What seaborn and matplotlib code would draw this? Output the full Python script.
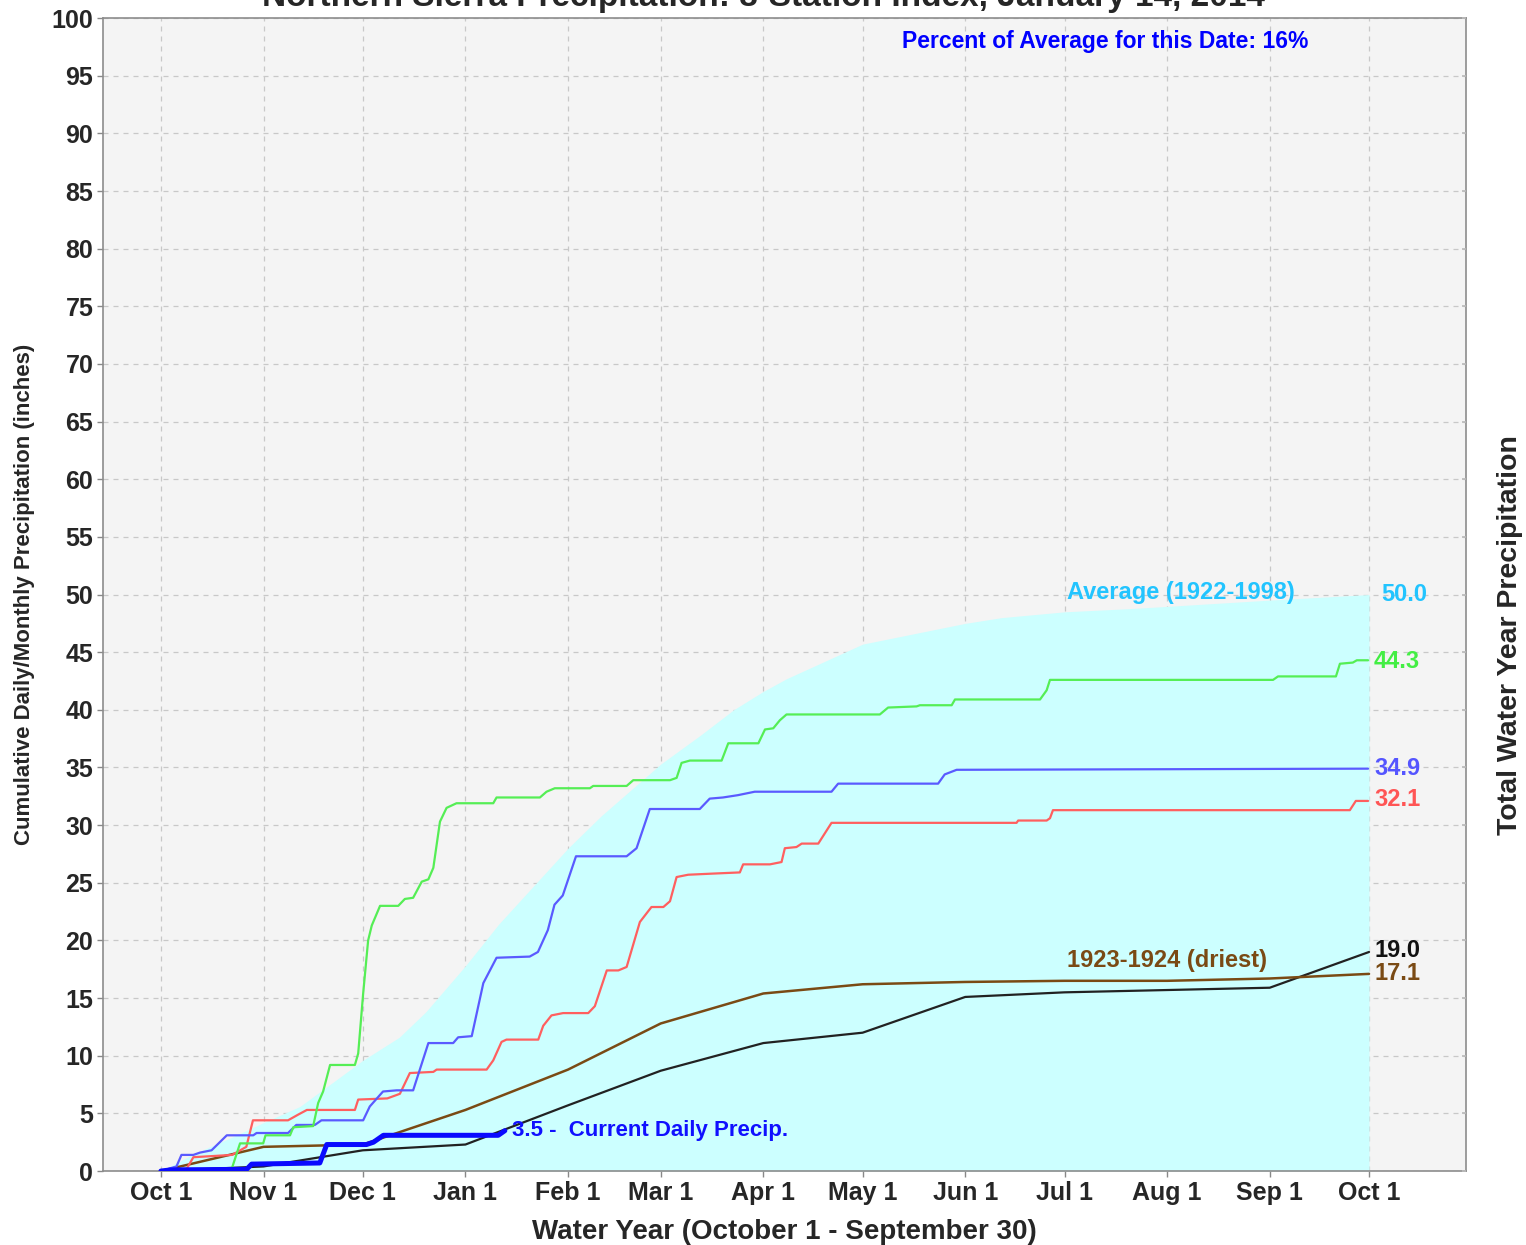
import seaborn as sns
import matplotlib.pyplot as plt

# x values are days of the water year (0 = Oct 1)
month_days = [0, 31, 61, 92, 123, 151, 182, 212, 243, 273, 304, 335, 365]
month_labels = ["Oct 1", "Nov 1", "Dec 1", "Jan 1", "Feb 1", "Mar 1", "Apr 1",
                "May 1", "Jun 1", "Jul 1", "Aug 1", "Sep 1", "Oct 1"]

# average 1922-1998 (cyan area)
avg_days = [0, 10, 22, 31, 42, 61, 72, 80, 92, 102, 123, 133, 151, 163, 173, 182,
            189, 212, 243, 254, 273, 294, 334, 365]
avg_vals = [0, 1.5, 3.0, 4.2, 5.6, 9.6, 11.6, 13.8, 17.8, 21.4, 28.0, 30.8, 35.3,
            37.8, 40.0, 41.6, 42.7, 45.7, 47.5, 48.0, 48.5, 48.8, 49.5, 50.0]

# monthly lines
monthly_a = [0, 0.4, 1.8, 2.3, 5.7, 8.7, 11.1, 12.0, 15.1, 15.5, 15.7, 15.9, 19.0]
driest = [0, 2.1, 2.3, 5.3, 8.8, 12.8, 15.4, 16.2, 16.4, 16.5, 16.5, 16.7, 17.1]

# daily lines
green_days = [0, 21.0, 21.4, 23.9, 30.9, 31.6, 39.0, 40.0, 46.0, 47.5, 49.0, 51.1, 58.6,
              59.6, 61.1, 62.6, 63.7, 66.2, 71.7, 73.7, 76.2, 78.8, 80.8, 82.3, 84.3,
              86.3, 89.3, 100.4, 101.4, 114.5, 116.5, 119.0, 129.6, 130.6, 140.7,
              142.7, 153.8, 155.8, 157.3, 159.8, 169.4, 171.4, 180.5, 182.5, 185.0,
              187.0, 189.0, 217.2, 219.7, 228.3, 229.3, 238.9, 239.9, 265.6, 267.6,
              268.6, 336.0, 337.5, 355.0, 356.2, 360.1, 361.3, 364.7]
green_vals = [0, 0, 0.2, 2.4, 2.4, 3.1, 3.1, 3.8, 3.9, 5.9, 6.9, 9.2, 9.2,
              10.2, 15.4, 20.0, 21.3, 23.0, 23.0, 23.6, 23.7, 25.1, 25.3, 26.3, 30.3,
              31.5, 31.9, 31.9, 32.4, 32.4, 32.9, 33.2, 33.2, 33.4, 33.4,
              33.9, 33.9, 34.1, 35.4, 35.6, 35.6, 37.1, 37.1, 38.3, 38.4,
              39.1, 39.6, 39.6, 40.2, 40.3, 40.4, 40.4, 40.9, 40.9, 41.7,
              42.6, 42.6, 42.9, 42.9, 44.0, 44.1, 44.3, 44.3]

blue_days = [0, 4.7, 6.2, 9.8, 11.8, 15.3, 19.9, 27.9, 28.9, 38.4, 40.9, 46.5, 48.5,
             61.1, 63.1, 67.1, 71.2, 76.2, 80.8, 88.3, 89.8, 93.9, 97.4, 101.4, 111.4,
             113.9, 116.9, 118.9, 121.4, 125.4, 140.7, 143.7, 147.7, 162.8, 165.8,
             169.8, 174.3, 179.4, 202.6, 204.6, 234.8, 236.8, 240.4, 364.7]
blue_vals = [0, 0.4, 1.4, 1.4, 1.6, 1.8, 3.1, 3.1, 3.3, 3.3, 4.0, 4.0, 4.4,
             4.4, 5.6, 6.9, 7.0, 7.0, 11.1, 11.1, 11.6, 11.7, 16.3, 18.5, 18.6,
             19.0, 20.9, 23.1, 23.9, 27.3, 27.3, 28.0, 31.4, 31.4, 32.3,
             32.4, 32.6, 32.9, 32.9, 33.6, 33.6, 34.4, 34.8, 34.9]

red_days = [0, 7.8, 9.8, 21.5, 25.8, 27.8, 38.4, 41.5, 44.1, 58.6, 59.6, 68.4, 72.2,
            75.2, 82.3, 83.3, 98.4, 100.4, 102.9, 104.4, 114.0, 115.5, 118.0, 121.5,
            129.1, 131.1, 134.7, 138.2, 140.7, 144.7, 148.2, 151.8, 153.8, 155.8,
            159.3, 166.9, 174.9, 175.9, 184.0, 187.5, 188.5, 192.0, 193.6, 198.6,
            202.6, 258.5, 259.0, 267.6, 268.6, 269.5, 359.2, 361.0, 364.7]
red_vals = [0, 0.2, 1.2, 1.4, 2.1, 4.4, 4.4, 4.9, 5.3, 5.3, 6.2, 6.3, 6.7,
            8.5, 8.6, 8.8, 8.8, 9.6, 11.2, 11.4, 11.4, 12.6, 13.5, 13.7,
            13.7, 14.3, 17.4, 17.4, 17.7, 21.6, 22.9, 22.9, 23.4, 25.5,
            25.7, 25.8, 25.9, 26.6, 26.6, 26.8, 28.0, 28.1, 28.4, 28.4,
            30.2, 30.2, 30.4, 30.4, 30.6, 31.3, 31.3, 32.1, 32.1]

current_days = [0, 3, 25.9, 27.4, 48.0, 50.1, 62.1, 64.2, 67.2, 101.9, 103.9]
current_vals = [0, 0.1, 0.15, 0.6, 0.7, 2.3, 2.3, 2.5, 3.1, 3.1, 3.5]

sns.set_theme(style="whitegrid")
plt.rcParams['font.family'] = ['Liberation Sans Narrow', 'Liberation Sans', 'DejaVu Sans']
plt.rcParams['font.weight'] = 'bold'
plt.rcParams['axes.labelweight'] = 'bold'

fig = plt.figure(figsize=(15.26, 12.45), dpi=100)
ax = fig.add_axes([0.0675, 0.0594, 0.8932, 0.9261])
ax.set_facecolor('#f4f4f4')

ax.fill_between(avg_days, avg_vals, 0, color='#ccffff', linewidth=0, zorder=1)

sns.lineplot(x=month_days, y=monthly_a, ax=ax, color='#222222', linewidth=1.6,
             sort=False, estimator=None, zorder=3)
sns.lineplot(x=month_days, y=driest, ax=ax, color='#7a4a14', linewidth=1.8,
             sort=False, estimator=None, zorder=3)
sns.lineplot(x=red_days, y=red_vals, ax=ax, color='#ff5f5f', linewidth=1.6,
             sort=False, estimator=None, zorder=4)
sns.lineplot(x=blue_days, y=blue_vals, ax=ax, color='#5a5aff', linewidth=1.6,
             sort=False, estimator=None, zorder=4)
sns.lineplot(x=green_days, y=green_vals, ax=ax, color='#55ee55', linewidth=1.6,
             sort=False, estimator=None, zorder=4)
sns.lineplot(x=current_days, y=current_vals, ax=ax, color='#0a0aff', linewidth=3.6,
             sort=False, estimator=None, zorder=5)

ax.set_xlim(-17.5, 394.3)
ax.set_ylim(0, 100)
ax.set_xticks(month_days)
ax.set_xticklabels(month_labels)
ax.set_yticks(range(0, 101, 5))
ax.tick_params(axis='both', labelsize=18, length=4, width=1, color='#888888',
               left=True, bottom=True, pad=3)
ax.grid(True, color='#c8c8c8', linestyle=(0, (4, 4)), linewidth=0.9)
for s in ax.spines.values():
    s.set_color('#8c8c8c')
    s.set_linewidth(1.2)

ax.set_xlabel("Water Year (October 1 - September 30)", fontsize=20, labelpad=10)
ax.set_ylabel("Cumulative Daily/Monthly Precipitation (inches)", fontsize=16, labelpad=12)

ax2 = ax.twinx()
ax2.set_ylim(0, 100)
ax2.set_yticks(range(0, 101, 5))
ax2.set_yticklabels([])
ax2.tick_params(axis='y', direction='in', length=3, color='#bbbbbb', right=True)
ax2.grid(False)
for s in ax2.spines.values():
    s.set_visible(False)
ax2.set_ylabel("Total Water Year Precipitation", fontsize=20.5,
               family=['Liberation Sans', 'DejaVu Sans'])
ax2.yaxis.set_label_coords(1.023, 0.465)

fig.text(0.5, 1 - 6 / 1245, "Northern Sierra Precipitation: 8-Station Index, January 14, 2014",
         ha='center', va='baseline', fontsize=24)

ax.text(285.2, 98.0, "Percent of Average for this Date: 16%", color='#0000ff',
        fontsize=16.5, ha='center', va='center')
ax.text(308, 50.2, "Average (1922-1998)", color='#22c4ff', fontsize=17,
        ha='center', va='center', zorder=6)
ax.text(368.6, 50.0, "50.0", color='#22c4ff', fontsize=17, ha='left', va='center')
ax.text(366.5, 44.2, "44.3", color='#44ee44', fontsize=17, ha='left', va='center')
ax.text(366.5, 34.9, "34.9", color='#5555ff', fontsize=17, ha='left', va='center')
ax.text(366.5, 32.2, "32.1", color='#ff5555', fontsize=17, ha='left', va='center')
ax.text(366.5, 19.1, "19.0", color='#111111', fontsize=17, ha='left', va='center')
ax.text(366.5, 17.1, "17.1", color='#7a4a14', fontsize=17, ha='left', va='center')
ax.text(304, 18.3, "1923-1924 (driest)", color='#7a4a14', fontsize=17,
        ha='center', va='center', zorder=6)
ax.text(106, 3.5, "3.5 -  Current Daily Precip.", color='#1010ff', fontsize=16,
        ha='left', va='center', zorder=6)

fig.savefig("out.png", dpi=100)
